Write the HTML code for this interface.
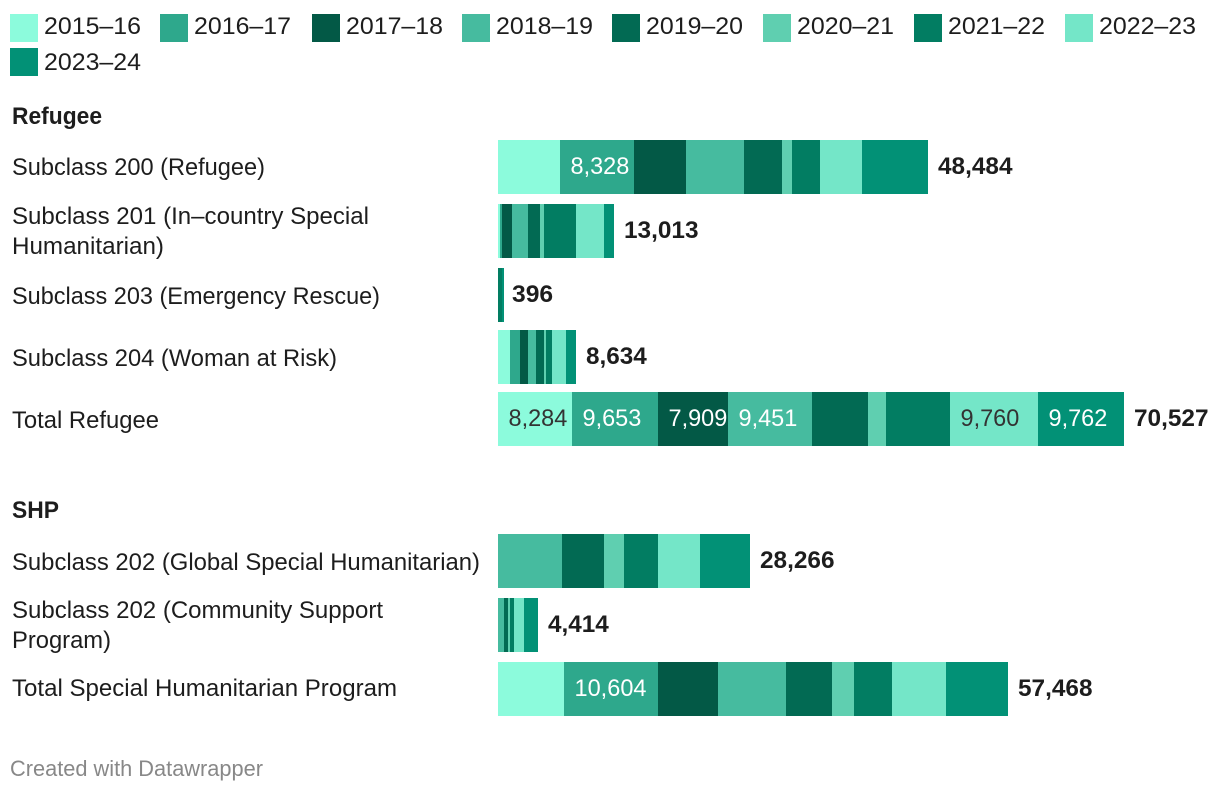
<!DOCTYPE html>
<html lang="en">
<head>
<meta charset="utf-8">
<title>Refugee and SHP visas by year</title>
<style>
  html, body { margin: 0; padding: 0; background: #fff; }
  svg { display: block; font-family: "Liberation Sans", sans-serif; }
</style>
</head>
<body>
<svg id="chart" xmlns="http://www.w3.org/2000/svg" width="1220" height="792" viewBox="0 0 1220 792">
  <text x="12" y="124" font-size="24" font-weight="700" fill="#1d1d1d" textLength="90" lengthAdjust="spacingAndGlyphs">Refugee</text>
  <text x="12" y="518" font-size="24" font-weight="700" fill="#1d1d1d" textLength="47" lengthAdjust="spacingAndGlyphs">SHP</text>
  <text x="10" y="776" font-size="22.5" fill="#888888" textLength="253" lengthAdjust="spacingAndGlyphs">Created with Datawrapper</text>
</svg>
<script>
// Series (financial years) and their colours
const years = ["2015–16", "2016–17", "2017–18", "2018–19", "2019–20", "2020–21", "2021–22", "2022–23", "2023–24"];
const yearColors = ["#8cfbdc", "#2ea88c", "#035946", "#46bb9f", "#026a53", "#5fcfb0", "#027d62", "#74e6c8", "#029176"];

// Categories (one per bar; \n marks a wrapped label)
const categories = [
  "Subclass 200 (Refugee)",
  "Subclass 201 (In–country Special\nHumanitarian)",
  "Subclass 203 (Emergency Rescue)",
  "Subclass 204 (Woman at Risk)",
  "Total Refugee",
  "Subclass 202 (Global Special Humanitarian)",
  "Subclass 202 (Community Support\nProgram)",
  "Total Special Humanitarian Program"
];

// Values per year
const subclass200 = [6985, 8328, 5858, 6534, 4281, 1127, 3155, 4732, 7484];
const subclass201 = [225, 225, 1127, 1803, 1352, 451, 3605, 3155, 1070];
const subclass203 = [0, 0, 0, 0, 0, 0, 450, 0, 225];
const subclass204 = [1352, 1127, 901, 901, 901, 225, 676, 1577, 1127];
const totalRefugee = [8284, 9653, 7909, 9451, 6340, 2060, 7308, 9760, 9762];
const subclass202Global = [0, 0, 0, 7210, 4732, 2253, 3831, 4732, 5633];
const subclass202Community = [0, 0, 0, 676, 451, 225, 451, 1127, 1577];
const totalSHP = [7436, 10604, 6760, 7661, 5183, 2479, 4281, 6084, 6985];

// Printed row totals
const rowTotals = [48484, 13013, 396, 8634, 70527, 28266, 4414, 57468];

const seriesByRow = [subclass200, subclass201, subclass203, subclass204, totalRefugee, subclass202Global, subclass202Community, totalSHP];

const svgNS = "http://www.w3.org/2000/svg";
const chart = document.getElementById("chart");
const axisMax = 70527;
const axisLeft = 498;
const axisSpan = 626;
const barHeight = 54;
const segmentLabelMin = 7800;

function xScale(v) {
  return axisLeft + Math.round(v / axisMax * axisSpan / 2) * 2;
}
function rowTop(i) {
  const tops = [140, 204, 268, 330, 392, 534, 598, 662];
  return tops[i];
}
function labelBaseline(i) {
  const bases = [175, 224, 304, 366, 428, 570, 618, 696];
  return bases[i];
}
function fmt(n) {
  return String(n).replace(/\B(?=(\d{3})+$)/g, ",");
}
function numWidth(s, digit, comma) {
  const commas = (s.match(/,/g) || []).length;
  return (s.length - commas) * digit + commas * comma;
}
function fitWidth(line) {
  const widths = {
    "Subclass 200 (Refugee)": 253,
    "Subclass 201 (In–country Special": 357,
    "Humanitarian)": 152,
    "Subclass 203 (Emergency Rescue)": 368,
    "Subclass 204 (Woman at Risk)": 325,
    "Total Refugee": 147,
    "Subclass 202 (Global Special Humanitarian)": 468,
    "Subclass 202 (Community Support": 371,
    "Program)": 99,
    "Total Special Humanitarian Program": 385
  };
  return widths[line];
}
function makeText(x, y, str, size, fill, width) {
  const t = document.createElementNS(svgNS, "text");
  t.setAttribute("x", x);
  t.setAttribute("y", y);
  t.setAttribute("font-size", size);
  t.setAttribute("fill", fill);
  if (width) {
    t.setAttribute("textLength", width);
    t.setAttribute("lengthAdjust", "spacingAndGlyphs");
  }
  t.textContent = str;
  return t;
}
function slug(s) {
  return s.toLowerCase().replace(/[^a-z0-9]+/g, "-").replace(/^-|-$/g, "");
}

// Legend
const legendLefts = [10, 160, 312, 462, 612, 763, 914, 1065];
years.forEach(function (year, i) {
  const row = i < legendLefts.length ? 0 : 1;
  const left = row === 0 ? legendLefts[i] : legendLefts[0];
  const top = row === 0 ? 14 : 48;
  const base = row === 0 ? 34 : 70;
  const g = document.createElementNS(svgNS, "g");
  
  
  const swatch = document.createElementNS(svgNS, "rect");
  swatch.setAttribute("x", left);
  swatch.setAttribute("y", top);
  swatch.setAttribute("width", 28);
  swatch.setAttribute("height", 28);
  swatch.setAttribute("fill", yearColors[i]);
  
  
  g.appendChild(swatch);
  const label = makeText(left + 34, base, year, 24, "#1d1d1d", 97);
  
  
  g.appendChild(label);
  chart.appendChild(g);
});

// Rows
categories.forEach(function (cat, r) {
  const top = rowTop(r);
  const lines = cat.split("\n");
  lines.forEach(function (line, l) {
    const base = labelBaseline(r) + l * 30;
    const label = makeText(12, base, line, 24, "#1d1d1d", fitWidth(line));
    
    
    chart.appendChild(label);
  });

  const values = seriesByRow[r];
  let cum = 0;
  values.forEach(function (v, s) {
    if (v <= 0) { return; }
    const x0 = xScale(cum);
    cum += v;
    const x1 = xScale(cum);
    const bar = document.createElementNS(svgNS, "rect");
    bar.setAttribute("x", x0);
    bar.setAttribute("y", top);
    bar.setAttribute("width", x1 - x0);
    bar.setAttribute("height", barHeight);
    bar.setAttribute("fill", yearColors[s]);
    
    
    chart.appendChild(bar);
  });

  cum = 0;
  values.forEach(function (v, s) {
    const x0 = xScale(cum);
    cum += v;
    if (v < segmentLabelMin) { return; }
    const str = fmt(v);
    const dark = s === 0 || s === 7;
    const val = makeText(x0 + 10.5, top + 34, str, 24, dark ? "#333333" : "#ffffff", numWidth(str, 13.2, 6));
    
    
    chart.appendChild(val);
  });

  const totalStr = fmt(rowTotals[r]);
  const endX = xScale(cum);
  const total = makeText(endX + (endX - axisLeft < 20 ? 8 : 10), top + 34, totalStr, 24, "#1d1d1d", numWidth(totalStr, 13.7, 6));
  total.setAttribute("font-weight", "700");
  
  
  chart.appendChild(total);
});
</script>
</body>
</html>
